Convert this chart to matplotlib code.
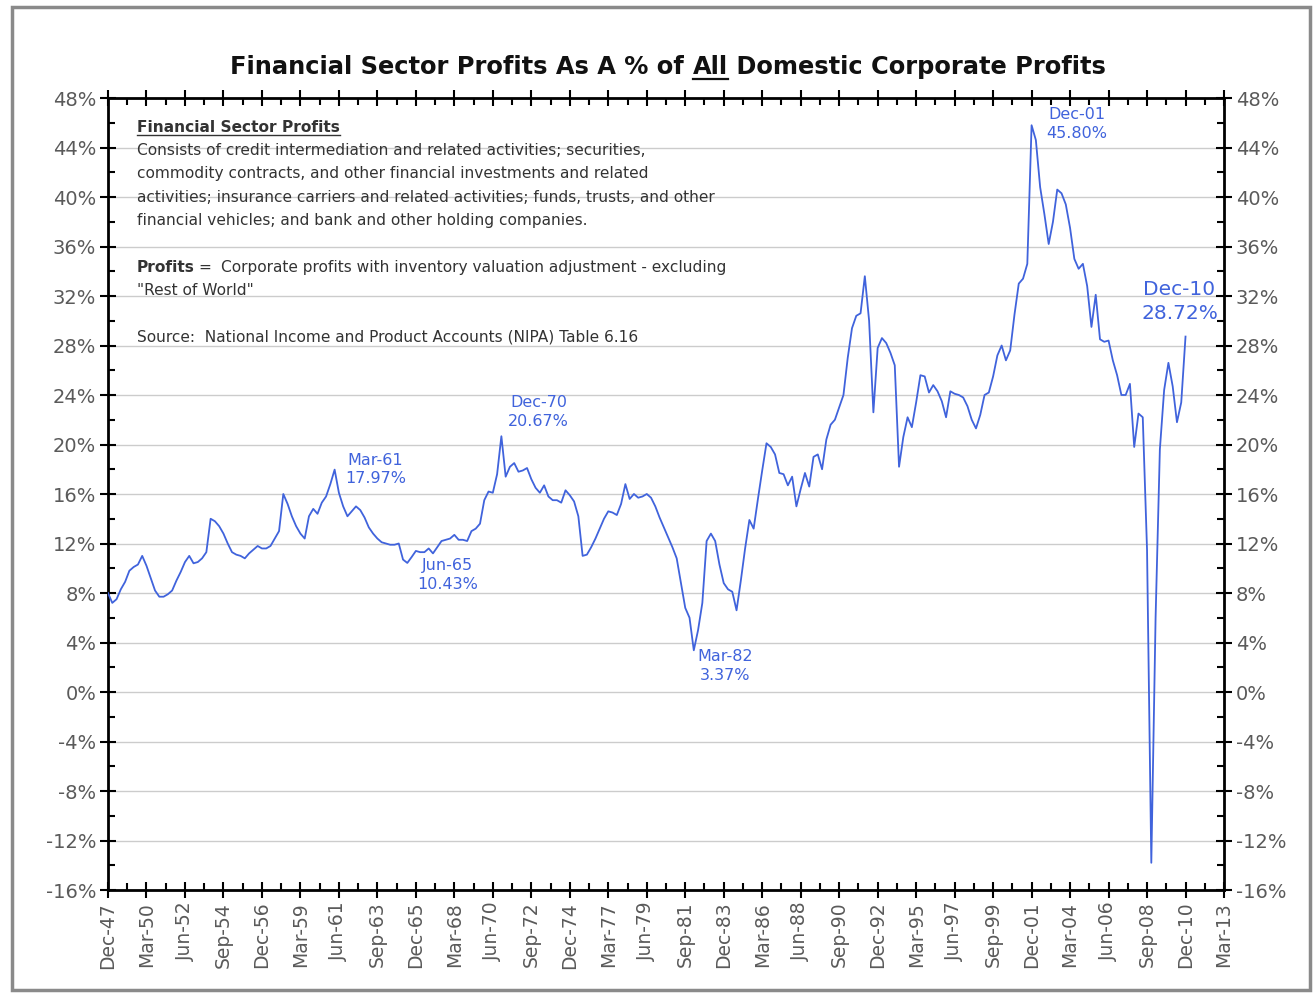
import matplotlib
matplotlib.use('Agg')
import numpy as np
import pandas as pd
import matplotlib.pyplot as plt
from matplotlib.ticker import MultipleLocator, FuncFormatter
from matplotlib.patches import Rectangle
from matplotlib.lines import Line2D

plt.rcParams['font.family'] = ['DejaVu Sans']

# financial sector profits as % of all domestic corporate profits, quarterly from Dec-47
fin_share = [8.0,                        # 1947 Q4
    7.2, 7.5, 8.3, 8.9,                  # 1948
    9.8, 10.1, 10.3, 11.0,               # 1949
    10.2, 9.2, 8.2, 7.7,                 # 1950
    7.7, 7.9, 8.2, 9.0,                  # 1951
    9.7, 10.5, 11.0, 10.4,               # 1952
    10.5, 10.8, 11.3, 14.0,              # 1953
    13.8, 13.4, 12.8, 12.0,              # 1954
    11.3, 11.1, 11.0, 10.8,              # 1955
    11.2, 11.5, 11.8, 11.6,              # 1956
    11.6, 11.8, 12.4, 13.0,              # 1957
    16.0, 15.2, 14.2, 13.4,              # 1958
    12.8, 12.4, 14.2, 14.8,              # 1959
    14.4, 15.3, 15.8, 16.8,              # 1960
    17.97, 16.1, 15.0, 14.2,             # 1961
    14.6, 15.0, 14.7, 14.1,              # 1962
    13.3, 12.8, 12.4, 12.1,              # 1963
    12.0, 11.9, 11.9, 12.0,              # 1964
    10.7, 10.43, 10.9, 11.4,             # 1965
    11.3, 11.3, 11.6, 11.2,              # 1966
    11.7, 12.2, 12.3, 12.4,              # 1967
    12.7, 12.3, 12.3, 12.2,              # 1968
    13.0, 13.2, 13.6, 15.5,              # 1969
    16.2, 16.1, 17.6, 20.67,             # 1970
    17.4, 18.2, 18.5, 17.8,              # 1971
    17.9, 18.1, 17.2, 16.5,              # 1972
    16.1, 16.7, 15.8, 15.5,              # 1973
    15.5, 15.3, 16.3, 15.9,              # 1974
    15.4, 14.2, 11.0, 11.1,              # 1975
    11.7, 12.4, 13.2, 14.0,              # 1976
    14.6, 14.5, 14.3, 15.2,              # 1977
    16.8, 15.6, 16.0, 15.7,              # 1978
    15.8, 16.0, 15.7, 15.0,              # 1979
    14.1, 13.3, 12.5, 11.7,              # 1980
    10.8, 8.8, 6.8, 6.0,                 # 1981
    3.37, 5.0, 7.2, 12.2,                # 1982
    12.8, 12.2, 10.3, 8.8,               # 1983
    8.3, 8.1, 6.6, 9.0,                  # 1984
    11.6, 13.9, 13.2, 15.6,              # 1985
    17.9, 20.1, 19.8, 19.2,              # 1986
    17.7, 17.6, 16.7, 17.4,              # 1987
    15.0, 16.4, 17.7, 16.6,              # 1988
    19.0, 19.2, 18.0, 20.4,              # 1989
    21.6, 22.0, 23.0, 24.0,              # 1990
    27.0, 29.4, 30.4, 30.6,              # 1991
    33.6, 30.0, 22.6, 27.8,              # 1992
    28.6, 28.2, 27.4, 26.4,              # 1993
    18.2, 20.6, 22.2, 21.4,              # 1994
    23.4, 25.6, 25.5, 24.2,              # 1995
    24.8, 24.3, 23.5, 22.2,              # 1996
    24.3, 24.1, 24.0, 23.8,              # 1997
    23.1, 22.0, 21.3, 22.4,              # 1998
    24.0, 24.2, 25.5, 27.2,              # 1999
    28.0, 26.8, 27.6, 30.5,              # 2000
    33.0, 33.4, 34.6, 45.8,              # 2001
    44.6, 40.8, 38.6, 36.2,              # 2002
    38.0, 40.6, 40.3, 39.4,              # 2003
    37.5, 35.0, 34.2, 34.6,              # 2004
    32.8, 29.5, 32.1, 28.5,              # 2005
    28.3, 28.4, 26.8, 25.6,              # 2006
    24.0, 24.0, 24.9, 19.8,              # 2007
    22.5, 22.2, 11.5, -13.8,             # 2008
    6.0, 19.6, 24.4, 26.6,               # 2009
    24.7, 21.8, 23.4, 28.72]             # 2010

tick_labels = ["Dec-47", "Mar-50", "Jun-52", "Sep-54", "Dec-56", "Mar-59", "Jun-61",
               "Sep-63", "Dec-65", "Mar-68", "Jun-70", "Sep-72", "Dec-74", "Mar-77",
               "Jun-79", "Sep-81", "Dec-83", "Mar-86", "Jun-88", "Sep-90", "Dec-92",
               "Mar-95", "Jun-97", "Sep-99", "Dec-01", "Mar-04", "Jun-06", "Sep-08",
               "Dec-10", "Mar-13"]

ann_labels = ["Mar-61", "Jun-65", "Dec-70", "Mar-82", "Dec-01", "Dec-10"]

note_lines = ["Consists of credit intermediation and related activities; securities,",
              "commodity contracts, and other financial investments and related",
              "activities; insurance carriers and related activities; funds, trusts, and other",
              "financial vehicles; and bank and other holding companies."]

# quarter axis
all_q = pd.period_range('1947Q4', '2013Q1', freq='Q')
q_names = [p.strftime('%b-%y') for p in all_q]
x = np.arange(len(fin_share))
tick_pos = [q_names.index(t) for t in tick_labels]

W, H = 1316, 997
fig = plt.figure(figsize=(W / 100, H / 100), dpi=100)
ax = fig.add_axes([108 / W, 1 - 890 / H, (1224 - 108) / W, (890 - 98) / H])

line_col = '#4063dc'
ax.plot(x, fin_share, color=line_col, lw=1.3, zorder=3)

ax.set_xlim(0, len(all_q) - 1)
ax.set_ylim(-16, 48)
ax.yaxis.set_major_locator(MultipleLocator(4))
ax.yaxis.set_minor_locator(MultipleLocator(2))
ax.yaxis.set_major_formatter(FuncFormatter(lambda v, p: f"{v:.0f}%"))
ax.set_xticks(tick_pos)
ax.set_xticklabels(tick_labels, rotation=90)
ax.set_xticks([p + 4.5 for p in tick_pos[:-1]], minor=True)

ax.yaxis.grid(True, which='major', color='#cccccc', lw=1)
ax.set_axisbelow(True)
for s in ax.spines.values():
    s.set_linewidth(2)

ax.tick_params(which='both', top=True, right=True, labelright=True, width=1.5, color='black')
ax.tick_params(which='major', direction='inout', length=11, labelcolor='#5a5a5a', pad=3)
ax.tick_params(axis='y', which='major', labelsize=14)
ax.tick_params(axis='x', which='major', labelsize=13.5)
ax.tick_params(which='minor', direction='in', length=5)

# annotations at the labelled quarters
offsets = [(41, 0), (40, -12), (37, 24), (31, -16), (45, 1), (-6, 35)]
for lab, off in zip(ann_labels, offsets):
    i = q_names.index(lab)
    fs = 14.5 if lab == "Dec-10" else 11.5
    ax.annotate(f"{lab}\n{fin_share[i]:.2f}%", xy=(i, fin_share[i]), xytext=off,
                textcoords='offset pixels', ha='center', va='center', color=line_col,
                fontsize=fs, linespacing=1.3, zorder=4)

# title with "All" underlined
renderer = fig.canvas.get_renderer()
parts = ["Financial Sector Profits As A % of ", "All", " Domestic Corporate Profits"]
tprops = dict(fontsize=17.4, fontweight='bold', color='#111111')
widths = []
for p in parts:
    t = fig.text(0, 0, p, **tprops)
    widths.append(t.get_window_extent(renderer).width)
    t.remove()
x0 = (668 - sum(widths) / 2) / W
ty = 1 - 74 / H
cx = x0
for p, w in zip(parts, widths):
    fig.text(cx, ty, p, ha='left', va='baseline', **tprops)
    if p == "All":
        fig.add_artist(Line2D([cx, cx + w / W], [ty - 5 / H] * 2, color='#111111', lw=1.6))
    cx += w / W

# notes box text
nprops = dict(fontsize=11.1, color='#333333', ha='left', va='baseline')
hx = 137 / W
h = fig.text(hx, 1 - 132 / H, "Financial Sector Profits", fontweight='bold', **nprops)
hw = h.get_window_extent(renderer).width
fig.add_artist(Line2D([hx, hx + hw / W], [1 - 135 / H] * 2, color='#333333', lw=1))
for k, ln in enumerate(note_lines):
    fig.text(hx, 1 - (155 + 23.3 * k) / H, ln, **nprops)
pb = fig.text(hx, 1 - 272 / H, "Profits", fontweight='bold', **nprops)
pw = pb.get_window_extent(renderer).width
fig.text(hx + (pw + 4) / W, 1 - 272 / H, "=", **nprops)
fig.text(hx + (pw + 26) / W, 1 - 272 / H,
         "Corporate profits with inventory valuation adjustment - excluding", **nprops)
fig.text(hx, 1 - 295 / H, '"Rest of World"', **nprops)
fig.text(hx, 1 - 341 / H, "Source:  National Income and Product Accounts (NIPA) Table 6.16", **nprops)

# chart frame
fig.add_artist(Rectangle((12 / W, 7 / H), (1310 - 12) / W, (990 - 7) / H,
                         fill=False, edgecolor='#8a8a8a', lw=2.5))

plt.savefig('out.png', dpi=100)
